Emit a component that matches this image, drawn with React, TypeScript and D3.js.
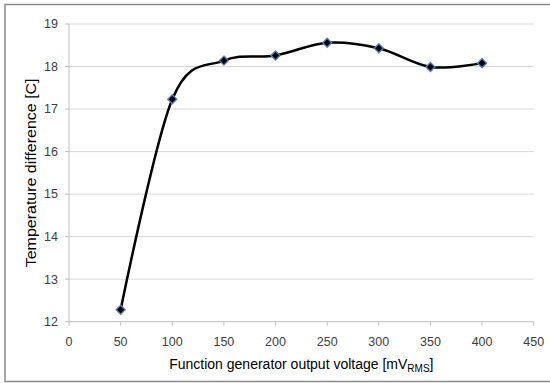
import React from "react";
import * as d3 from "d3";

const voltages = [50, 100, 150, 200, 250, 300, 350, 400];
const tempDiff = [12.28, 17.23, 18.14, 18.26, 18.56, 18.43, 17.99, 18.08];
const xTicks = [0, 50, 100, 150, 200, 250, 300, 350, 400, 450];
const yTicks = [12, 13, 14, 15, 16, 17, 18, 19];

const W = 550;
const H = 383;
const plot = { left: 69, right: 533.7, top: 24, bottom: 321.7 };
const font = "'Liberation Sans', Arial, sans-serif";

export default function App() {
  const x = d3.scaleLinear().domain([0, 450]).range([plot.left, plot.right]);
  const y = d3.scaleLinear().domain([12, 19]).range([plot.bottom, plot.top]);
  const pts: [number, number][] = voltages.map((v, i) => [x(v), y(tempDiff[i])]);
  const path = d3.line().curve(d3.curveCatmullRom.alpha(0))(pts) || "";
  const diamond = d3.symbol().type(d3.symbolDiamond2).size(52)() || "";

  return (
    <svg
      width={W}
      height={H}
      style={{ position: "absolute", left: 0, top: 0, background: "#fff" }}
    >
      <rect x={5} y={4.5} width={W} height={377} fill="#fff" stroke="#8c8c8c" strokeWidth={1.5} />
      {yTicks.map((t) => (
        <g key={"y" + t}>
          {t !== 12 && (
            <line x1={plot.left} x2={plot.right} y1={y(t)} y2={y(t)} stroke="#d9d9d9" strokeWidth={1} />
          )}
          <line x1={plot.left - 4} x2={plot.left} y1={y(t)} y2={y(t)} stroke="#bfbfbf" />
          <text x={58} y={y(t)} dy="0.35em" textAnchor="end" fontSize={12.5} fill="#404040" fontFamily={font}>
            {t}
          </text>
        </g>
      ))}
      <line x1={plot.left} x2={plot.left} y1={plot.top} y2={plot.bottom} stroke="#bfbfbf" />
      <line x1={plot.left} x2={plot.right} y1={plot.bottom} y2={plot.bottom} stroke="#bfbfbf" />
      {xTicks.map((t) => (
        <g key={"x" + t}>
          <line x1={x(t)} x2={x(t)} y1={plot.bottom} y2={plot.bottom + 4} stroke="#bfbfbf" />
          <text x={x(t)} y={346} textAnchor="middle" fontSize={12.5} fill="#404040" fontFamily={font}>
            {t}
          </text>
        </g>
      ))}
      <path d={path} fill="none" stroke="#000" strokeWidth={2.5} />
      {pts.map(([px, py], i) => (
        <path
          key={"m" + i}
          d={diamond}
          transform={`translate(${px},${py})`}
          fill="#000"
          stroke="#4f81bd"
          strokeWidth={1.3}
        />
      ))}
      <text
        transform={`translate(36,${(plot.top + plot.bottom) / 2}) rotate(-90) scale(1.08,1)`}
        textAnchor="middle"
        fontSize={14.8}
        fill="#000"
        fontFamily={font}
      >
        Temperature difference [C]
      </text>
      <text x={(plot.left + plot.right) / 2} y={369} textAnchor="middle" fontSize={14} fill="#000" fontFamily={font}>
        Function generator output voltage [mV
        <tspan fontSize={10} dy={2.5}>RMS</tspan>
        <tspan dy={-2.5}>]</tspan>
      </text>
    </svg>
  );
}
